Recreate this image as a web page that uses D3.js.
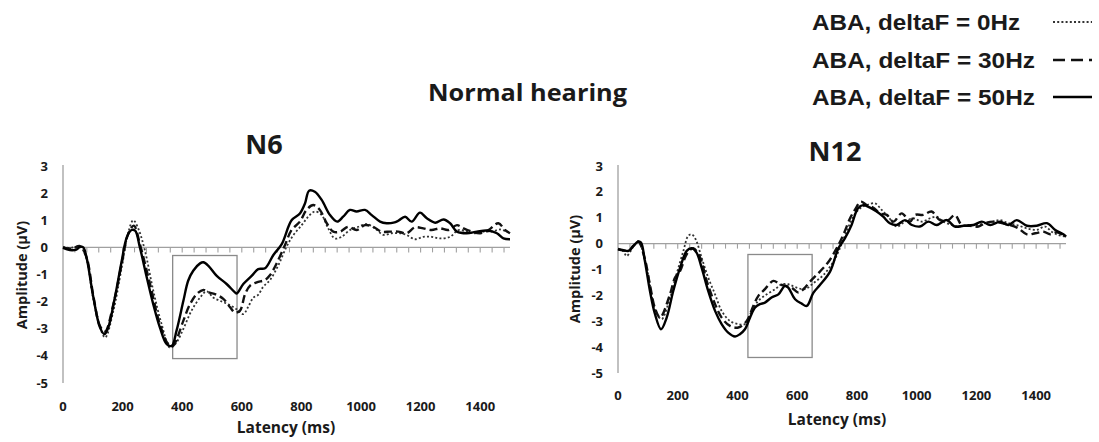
<!DOCTYPE html>
<html><head><meta charset="utf-8">
<script src="https://cdn.jsdelivr.net/npm/d3@7"></script>
<style>
body{margin:0;background:#fff;}
svg{display:block;}
text{font-family:"Open Sans","DejaVu Sans",sans-serif;font-weight:bold;fill:#1a1a1a;}
.leg{font-family:"Liberation Sans",Arial,sans-serif;}
</style></head>
<body>
<script>
// ---------- DATA ----------
const panelTitles = ["N6", "N12"];
const seriesNames = ["ABA, deltaF = 0Hz", "ABA, deltaF = 30Hz", "ABA, deltaF = 50Hz"];
const xTicks = [0, 200, 400, 600, 800, 1000, 1200, 1400];
const yTicks = [3, 2, 1, 0, -1, -2, -3, -4, -5];
const xDomain = [0, 1500];
const yDomain = [-5, 3];
const minorTickStep = 40;

// [latency ms, amplitude µV]
const N6_0Hz = [[0,0.02],[23,-0.02],[57,0.02],[79,-0.43],[102,-1.91],[141,-3.32],[169,-2.34],[197,-0.74],[219,0.55],[236,1.0],[253,0.68],[275,-0.12],[303,-1.6],[331,-2.83],[359,-3.7],[381,-3.5],[404,-3.0],[431,-2.34],[460,-1.85],[482,-1.62],[504,-1.85],[527,-1.97],[555,-2.1],[583,-2.28],[605,-2.46],[621,-2.2],[639,-1.85],[655,-1.75],[672,-1.45],[695,-1.2],[723,-0.65],[750,0.02],[773,0.45],[801,0.82],[823,1.13],[845,1.32],[868,1.19],[890,0.7],[912,0.33],[935,0.39],[963,0.64],[991,0.76],[1019,0.86],[1047,0.7],[1075,0.46],[1103,0.52],[1131,0.52],[1153,0.46],[1181,0.3],[1209,0.39],[1237,0.39],[1265,0.33],[1299,0.39],[1327,0.64],[1355,0.58],[1383,0.52],[1411,0.58],[1439,0.58],[1467,0.66],[1489,0.58],[1500,0.54]];
const N6_30Hz = [[0,0.0],[30,-0.05],[57,0.05],[79,-0.37],[102,-1.8],[124,-2.9],[141,-3.1],[169,-2.1],[197,-0.6],[219,0.5],[238,0.8],[258,0.12],[292,-1.35],[325,-2.83],[353,-3.56],[370,-3.63],[381,-3.4],[404,-2.7],[426,-2.1],[449,-1.72],[471,-1.57],[488,-1.66],[510,-1.72],[538,-1.9],[560,-2.2],[577,-2.4],[594,-2.33],[611,-1.72],[628,-1.41],[650,-1.29],[678,-1.2],[695,-1.02],[717,-0.59],[745,0.09],[767,0.64],[795,0.95],[817,1.38],[840,1.56],[862,1.38],[885,0.89],[907,0.58],[930,0.58],[957,0.76],[985,0.64],[1013,0.82],[1041,0.76],[1069,0.58],[1097,0.58],[1125,0.58],[1153,0.52],[1181,0.74],[1209,0.7],[1237,0.64],[1265,0.7],[1293,0.64],[1322,0.82],[1344,0.7],[1372,0.58],[1400,0.52],[1428,0.64],[1461,0.89],[1483,0.64],[1500,0.52]];
const N6_50Hz = [[0,-0.02],[23,-0.1],[45,-0.08],[57,0.02],[68,0.0],[79,-0.37],[102,-1.85],[124,-2.95],[139,-3.2],[152,-2.95],[174,-1.85],[197,-0.5],[214,0.37],[230,0.64],[242,0.62],[258,0.0],[281,-1.1],[303,-2.1],[325,-2.95],[348,-3.57],[365,-3.63],[381,-3.07],[404,-1.97],[420,-1.23],[437,-0.86],[460,-0.59],[471,-0.55],[488,-0.68],[516,-1.05],[549,-1.35],[577,-1.66],[583,-1.7],[605,-1.35],[633,-1.05],[655,-0.8],[678,-0.77],[706,-0.28],[734,0.12],[767,1.0],[795,1.25],[812,1.62],[826,2.09],[845,2.05],[868,1.75],[896,1.19],[920,0.95],[940,1.13],[963,1.38],[985,1.32],[1013,1.38],[1036,1.19],[1064,0.95],[1086,0.89],[1109,0.91],[1125,0.98],[1148,1.13],[1170,0.95],[1198,1.28],[1221,1.07],[1249,0.91],[1277,1.03],[1299,0.89],[1322,0.58],[1355,0.52],[1389,0.58],[1423,0.62],[1456,0.52],[1478,0.33],[1500,0.3]];

const N12_0Hz = [[0,-0.22],[18,-0.3],[29,-0.48],[51,-0.13],[68,0.08],[90,-0.6],[107,-1.6],[124,-2.55],[146,-2.92],[168,-2.34],[196,-1.18],[219,-0.28],[235,0.3],[247,0.36],[260,0.17],[280,-0.54],[302,-1.31],[325,-1.96],[347,-2.6],[375,-2.99],[403,-3.11],[425,-3.11],[448,-2.6],[470,-2.21],[498,-1.96],[526,-1.76],[548,-1.57],[570,-1.57],[598,-1.7],[626,-1.76],[654,-1.53],[688,-1.21],[721,-0.7],[743,-0.18],[765,0.46],[788,1.04],[810,1.36],[833,1.49],[860,1.56],[883,1.3],[905,1.04],[933,0.66],[961,0.85],[989,0.98],[1017,0.85],[1045,0.98],[1067,1.04],[1089,0.85],[1117,0.72],[1145,0.66],[1173,0.72],[1201,0.72],[1229,0.79],[1257,0.85],[1279,0.91],[1307,0.79],[1335,0.72],[1369,0.59],[1402,0.53],[1430,0.66],[1452,0.46],[1475,0.33],[1500,0.27]];
const N12_30Hz = [[0,-0.2],[18,-0.25],[35,-0.3],[51,-0.1],[68,0.08],[90,-0.6],[107,-1.6],[124,-2.5],[141,-2.86],[174,-1.96],[191,-1.31],[208,-1.05],[230,-0.41],[252,-0.18],[275,-0.54],[297,-1.44],[325,-2.34],[347,-2.86],[375,-3.18],[403,-3.24],[431,-2.99],[453,-2.41],[470,-2.02],[492,-1.76],[520,-1.44],[542,-1.57],[559,-1.63],[581,-1.7],[604,-1.89],[626,-1.7],[643,-1.47],[676,-1.08],[705,-0.7],[732,-0.18],[754,0.33],[777,0.98],[793,1.3],[813,1.62],[833,1.49],[855,1.39],[877,1.17],[900,1.11],[922,0.85],[950,1.17],[978,0.85],[995,1.11],[1022,1.11],[1050,1.24],[1078,0.91],[1106,0.91],[1128,1.11],[1151,0.72],[1179,0.69],[1207,0.66],[1229,0.79],[1257,0.85],[1285,0.79],[1313,0.72],[1341,0.59],[1369,0.36],[1397,0.4],[1425,0.46],[1447,0.36],[1469,0.44],[1491,0.33],[1500,0.27]];
const N12_50Hz = [[0,-0.22],[18,-0.26],[35,-0.28],[51,-0.09],[68,0.08],[77,0.04],[90,-0.67],[107,-1.83],[124,-2.73],[144,-3.31],[163,-2.86],[185,-1.83],[208,-0.93],[230,-0.28],[247,-0.18],[263,-0.35],[280,-0.93],[302,-1.83],[325,-2.6],[347,-3.11],[369,-3.44],[392,-3.59],[408,-3.5],[425,-3.31],[442,-2.86],[459,-2.47],[475,-2.34],[492,-2.28],[514,-2.08],[537,-1.96],[559,-1.63],[570,-1.7],[593,-2.15],[615,-2.32],[632,-2.41],[654,-1.9],[676,-1.6],[710,-1.08],[738,-0.18],[760,0.21],[782,0.72],[803,1.36],[821,1.49],[844,1.39],[866,1.24],[888,1.04],[910,0.79],[933,0.72],[961,0.91],[984,0.72],[1011,0.66],[1039,0.85],[1067,0.72],[1100,0.91],[1128,0.66],[1157,0.69],[1190,0.72],[1218,0.85],[1246,0.72],[1279,0.85],[1307,0.72],[1335,0.91],[1369,0.69],[1402,0.69],[1436,0.79],[1464,0.53],[1491,0.36],[1500,0.27]];

// analysis windows [ms start, ms end, amp top, amp bottom]
const N6_window = [368, 584, -0.3, -4.1];
const N12_window = [435, 650, -0.42, -4.4];

// ---------- LAYOUT ----------
const W = 1099, H = 442;
const svg = d3.select("body").append("svg").attr("width", W).attr("height", H);

const styles = [
  {dash: "2,2.2", width: 1.8, color: "#333"},
  {dash: "8,4", width: 2.4, color: "#111"},
  {dash: null, width: 2.4, color: "#000"}
];

const panels = [
  {title: panelTitles[0], series: [N6_0Hz, N6_30Hz, N6_50Hz], win: N6_window,
   x0: 63, x1: 510, yTop: 166, yBot: 383, titleX: 264, titleY: 154,
   ylabX: 22, ylabY: 275, xlabX: 286, xlabY: 433, xtickY: 411},
  {title: panelTitles[1], series: [N12_0Hz, N12_30Hz, N12_50Hz], win: N12_window,
   x0: 618, x1: 1066, yTop: 166, yBot: 373, titleX: 835, titleY: 161,
   ylabX: 575, ylabY: 269, xlabX: 837, xlabY: 425, xtickY: 400}
];

panels.forEach(p => {
  const g = svg.append("g");
  const x = d3.scaleLinear().domain(xDomain).range([p.x0, p.x1]);
  const y = d3.scaleLinear().domain(yDomain).range([p.yBot, p.yTop]);

  g.append("line").attr("x1", x(0)).attr("x2", x(0)).attr("y1", y(3) - 1).attr("y2", y(-5))
    .attr("stroke", "#a0a0a0").attr("stroke-width", 1.3);
  g.append("line").attr("x1", x(0)).attr("x2", x(1500)).attr("y1", y(0)).attr("y2", y(0))
    .attr("stroke", "#a0a0a0").attr("stroke-width", 1.3);
  const minor = d3.range(minorTickStep, 1501, minorTickStep);
  g.selectAll(".mt").data(minor).join("line")
    .attr("x1", d => x(d)).attr("x2", d => x(d))
    .attr("y1", y(0)).attr("y2", y(0) + 5)
    .attr("stroke", "#a0a0a0").attr("stroke-width", 1.1);

  g.selectAll(".yl").data(yTicks).join("text")
    .attr("x", x(0) - 15).attr("y", d => y(d)).attr("dy", "0.35em")
    .attr("text-anchor", "end").attr("font-size", 13).text(d => d);
  g.selectAll(".xl").data(xTicks).join("text")
    .attr("x", d => x(d)).attr("y", p.xtickY)
    .attr("text-anchor", "middle").attr("font-size", 13).text(d => d);

  g.append("text").attr("transform", `translate(${p.ylabX},${p.ylabY}) rotate(-90)`)
    .attr("text-anchor", "middle").attr("dy", "0.35em").attr("font-size", 14.5).text("Amplitude (µV)");
  g.append("text").attr("x", p.xlabX).attr("y", p.xlabY)
    .attr("text-anchor", "middle").attr("font-size", 15.5).text("Latency (ms)");
  g.append("text").attr("x", p.titleX).attr("y", p.titleY)
    .attr("text-anchor", "middle").attr("font-size", 27).text(p.title);

  const w = p.win;
  g.append("rect").attr("x", x(w[0])).attr("y", y(w[2]))
    .attr("width", x(w[1]) - x(w[0])).attr("height", y(w[3]) - y(w[2]))
    .attr("fill", "none").attr("stroke", "#8a8a8a").attr("stroke-width", 1.3);

  const line = d3.line().x(d => x(d[0])).y(d => y(d[1])).curve(d3.curveCatmullRom.alpha(0.5));
  p.series.forEach((s, i) => {
    const st = styles[i];
    g.append("path").datum(s).attr("d", line).attr("fill", "none")
      .attr("stroke", st.color).attr("stroke-width", st.width)
      .attr("stroke-dasharray", st.dash).attr("stroke-linejoin", "round");
  });
});

// main title
svg.append("text").attr("x", 428).attr("y", 101)
  .attr("font-size", 23).attr("textLength", 199).attr("lengthAdjust", "spacingAndGlyphs")
  .text("Normal hearing");

// legend
const legY = [22, 60, 97];
const legW = [208, 223, 223];
seriesNames.forEach((n, i) => {
  svg.append("text").attr("class", "leg").attr("x", 812).attr("y", legY[i]).attr("dy", "0.35em")
    .attr("font-size", 21.5).attr("textLength", legW[i]).attr("lengthAdjust", "spacingAndGlyphs").text(n);
  const st = styles[i];
  svg.append("line").attr("x1", 1053).attr("x2", 1092).attr("y1", legY[i]).attr("y2", legY[i])
    .attr("stroke", st.color).attr("stroke-width", i === 0 ? 2 : 2.6)
    .attr("stroke-dasharray", i === 1 ? "12,6" : st.dash);
});
</script>
</body></html>
